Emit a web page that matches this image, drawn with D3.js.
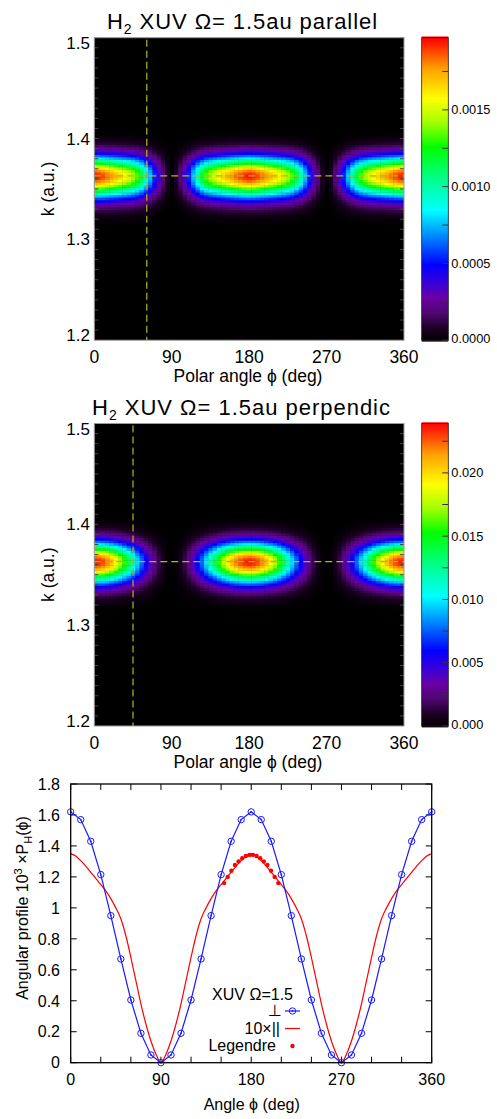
<!DOCTYPE html>
<html><head><meta charset="utf-8">
<script src="https://cdn.jsdelivr.net/npm/d3@7"></script>
<style>
body{margin:0;background:#fff}
svg{display:block}
text{font-family:"Liberation Sans","DejaVu Sans",Arial,sans-serif;fill:#000}
</style>
</head><body>
<svg id="c" width="497" height="1119"></svg>
<script>
// ---------------- DATA ----------------
const heatAngles = d3.range(0, 361, 5);              // polar angle grid (deg)
// angular profile of the parallel case (x10, units 1e-3)
const parallelProfile = [
 1.35,1.335,1.305,1.27,1.23,1.19,1.15,1.11,1.06,1.0,0.93,0.82,0.68,0.53,0.38,0.25,0.14,0.055,0,
 0.055,0.14,0.25,0.38,0.53,0.68,0.82,0.93,1.0,1.06,1.11,1.15,1.19,1.23,1.27,1.305,1.335,1.35,
 1.335,1.305,1.27,1.23,1.19,1.15,1.11,1.06,1.0,0.93,0.82,0.68,0.53,0.38,0.25,0.14,0.055,0,
 0.055,0.14,0.25,0.38,0.53,0.68,0.82,0.93,1.0,1.06,1.11,1.15,1.19,1.23,1.27,1.305,1.335,1.35];
// angular profile of the perpendicular case (units 1e-3)
const perpendicularProfile = [
 1.62,1.607,1.57,1.51,1.43,1.33,1.215,1.087,0.95,0.81,0.67,0.533,0.405,0.29,0.19,0.108,0.05,0.012,0,
 0.012,0.05,0.108,0.19,0.29,0.405,0.533,0.67,0.81,0.95,1.087,1.215,1.33,1.43,1.51,1.57,1.607,1.62,
 1.607,1.57,1.51,1.43,1.33,1.215,1.087,0.95,0.81,0.67,0.533,0.405,0.29,0.19,0.108,0.05,0.012,0,
 0.012,0.05,0.108,0.19,0.29,0.405,0.533,0.67,0.81,0.95,1.087,1.215,1.33,1.43,1.51,1.57,1.607,1.62];
const kGrid = d3.range(41).map(i => 1.313 + i * 0.0025);   // momentum grid (a.u.)
const radialProfile = [
 0.0033,0.0058,0.0098,0.016,0.026,0.040,0.061,0.090,0.128,0.178,0.240,0.315,0.401,0.497,0.598,0.700,0.796,0.879,0.945,0.986,
 1,
 0.983,0.934,0.857,0.760,0.651,0.539,0.432,0.334,0.249,0.180,0.126,0.085,0.055,0.035,0.021,0.0124,0.0070,0.0039,0.0021,0.0010];
const parallelPeak = 0.00195, perpendicularPeak = 0.0236;
const parallelBarMax = 0.00197, perpendicularBarMax = 0.0239;
const parallelBarTicks = [0, 0.0005, 0.0010, 0.0015];
const perpendicularBarTicks = [0, 0.005, 0.010, 0.015, 0.020];
const phiTicks = [0, 90, 180, 270, 360];
const kTicks = [1.2, 1.3, 1.4, 1.5];
const parallelCutPhi = 61, perpendicularCutPhi = 45, cutK = 1.363;

// bottom panel
const profileAngles = d3.range(0, 361, 10);
const perpendicularPoints = [1.62,1.57,1.43,1.215,0.95,0.67,0.405,0.19,0.05,0,
 0.05,0.19,0.405,0.67,0.95,1.215,1.43,1.57,1.62,
 1.57,1.43,1.215,0.95,0.67,0.405,0.19,0.05,0,
 0.05,0.19,0.405,0.67,0.95,1.215,1.43,1.57,1.62];
const legendreAngles = [153,156.6,160.2,163.8,167.4,171,174.6,178.2,181.8,185.4,189,192.6,196.2,199.8,203.4,207];
const legendreValues = [1.16,1.20,1.24,1.277,1.30,1.32,1.335,1.342,1.342,1.335,1.32,1.30,1.277,1.24,1.20,1.16];
const profileXTicks = [0, 90, 180, 270, 360];
const profileYTicks = [0,0.2,0.4,0.6,0.8,1,1.2,1.4,1.6,1.8];

// colour table (fraction of bar max)
const cStops = [[0,"#000000"],[0.04,"#1c0024"],[0.09,"#4e0870"],[0.14,"#6a00a4"],[0.19,"#3a00d8"],[0.25,"#0000ff"],
 [0.34,"#0080ff"],[0.43,"#00ffff"],[0.53,"#00ff90"],[0.64,"#00ff00"],[0.72,"#a0ff00"],[0.80,"#ffff00"],[0.90,"#ffa000"],[1,"#ff0000"]];

// ---------------- DRAW ----------------
const svg = d3.select("#c");
const defs = svg.append("defs");

function title(y, rest, x0, x1){
  const t = svg.append("text").attr("x", x0).attr("y", y).style("font-size","22px");
  t.append("tspan").text("H");
  t.append("tspan").attr("dy",5).style("font-size","14px").text("2");
  t.append("tspan").attr("dy",-5).text(" XUV Ω= 1.5au " + rest);
  const w = t.node().getComputedTextLength();
  const n = ("H2 XUV Ω= 1.5au " + rest).length;
  t.style("letter-spacing", ((x1 - x0 - w) / n) + "px");
}

function heatmap(id, top, profile, peak, barMax, barTicks, fmt, cutPhi){
  const x0 = 94.3, x1 = 404, y0 = top, y1 = top + 302.5;
  const x = d3.scaleLinear().domain([0,360]).range([x0,x1]);
  const y = d3.scaleLinear().domain([1.2,1.5]).range([y1,y0]);
  const color = d3.scaleLinear().domain(cStops.map(s=>s[0]*barMax)).range(cStops.map(s=>s[1])).clamp(true);
  defs.append("clipPath").attr("id","clip"+id).append("rect").attr("x",x0).attr("y",y0).attr("width",x1-x0).attr("height",y1-y0);
  const g = svg.append("g");
  g.append("rect").attr("x",x0).attr("y",y0).attr("width",x1-x0).attr("height",y1-y0).attr("fill","#000");
  const pmax = d3.max(profile);
  const cells = [];
  kGrid.forEach((k,i)=>heatAngles.forEach((a,j)=>{
    const v = peak * profile[j]/pmax * radialProfile[i];
    if (v > barMax*0.004) cells.push({k, a, v});
  }));
  const cw = x(5)-x(0), kh = y(1.2)-y(1.2025);
  g.append("g").attr("clip-path","url(#clip"+id+")").selectAll("rect").data(cells).join("rect")
    .attr("x", d=>x(d.a-2.5)).attr("width", cw+0.4)
    .attr("y", d=>y(d.k+0.00125)).attr("height", kh+0.4)
    .attr("fill", d=>color(d.v));
  // dashed cuts
  g.append("line").attr("x1",x(cutPhi)).attr("x2",x(cutPhi)).attr("y1",y0+2).attr("y2",y1)
    .attr("stroke","#a8a820").attr("stroke-width",1.3).attr("stroke-dasharray","7,4");
  g.append("line").attr("x1",x0).attr("x2",x1).attr("y1",y(cutK)).attr("y2",y(cutK))
    .attr("stroke","#b4b424").attr("stroke-width",1.3).attr("stroke-dasharray","7,4");
  // minor ticks on k axis
  const kt = d3.range(1.21,1.5,0.01);
  g.selectAll(".kt").data(kt).join("line").attr("x1",x0).attr("x2",x0+4).attr("y1",d=>y(d)).attr("y2",d=>y(d)).attr("stroke","#444");
  g.selectAll(".kt2").data(kt).join("line").attr("x1",x1).attr("x2",x1-4).attr("y1",d=>y(d)).attr("y2",d=>y(d)).attr("stroke","#444");
  g.append("rect").attr("x",x0).attr("y",y0).attr("width",x1-x0).attr("height",y1-y0).attr("fill","none").attr("stroke","#9a9a9a").attr("stroke-width",1);
  // axes labels
  g.selectAll(".kl").data(kTicks).join("text").attr("x",90).attr("text-anchor","end")
    .attr("y",d=>y(d) + (d===1.5?5:(d===1.2?-5:0))).attr("dy","0.36em").style("font-size","17px").text(d=>d.toFixed(1));
  g.selectAll(".pl").data(phiTicks).join("text").attr("x",d=>x(d)).attr("y",y1+23).attr("text-anchor","middle").style("font-size","17.5px").text(d=>d);
  g.append("text").attr("x",248).attr("y",y1+42).attr("text-anchor","middle").style("font-size","17.5px").text("Polar angle  ϕ (deg)");
  g.append("text").attr("transform",`translate(54,${(y0+y1)/2}) rotate(-90)`).attr("text-anchor","middle").style("font-size","17.5px").text("k (a.u.)");
  // colour bar
  const bx = 421.7, bw = 26.6;
  const by = d3.scaleLinear().domain([0,barMax]).range([y1,y0]);
  const steps = d3.range(0,152).map(i=>i*barMax/151);
  g.selectAll(".cb").data(steps).join("rect").attr("x",bx).attr("width",bw)
    .attr("y",d=>by(d)-1.2).attr("height",2.6).attr("fill",d=>color(d));
  g.append("rect").attr("x",bx).attr("y",y0).attr("width",bw).attr("height",y1-y0).attr("fill","none").attr("stroke","#222").attr("stroke-width",0.8);
  const step = barTicks[1]-barTicks[0];
  const minor = d3.range(0, barMax, step/2);
  g.selectAll(".cbt").data(minor).join("line").attr("x1",bx+bw).attr("x2",bx+bw-6).attr("y1",d=>by(d)).attr("y2",d=>by(d)).attr("stroke","#333");
  g.selectAll(".cbl").data(barTicks).join("text").attr("x",bx+bw+3).attr("y",d=>by(d)-(d===0?2:0)).attr("dy","0.36em")
    .style("font-size","12.8px").text(d=>d3.format(fmt)(d));
}

title(29, "parallel", 107, 378);
heatmap("a", 37.7, parallelProfile, parallelPeak, parallelBarMax, parallelBarTicks, ".4f", parallelCutPhi);
title(415, "perpendic", 92, 391);
heatmap("b", 423.5, perpendicularProfile, perpendicularPeak, perpendicularBarMax, perpendicularBarTicks, ".3f", perpendicularCutPhi);

// ---------------- bottom panel ----------------
(function(){
  const X0 = 70.7, X1 = 431.7, Y0 = 784, Y1 = 1062.7;
  const x = d3.scaleLinear().domain([0,360]).range([X0,X1]);
  const y = d3.scaleLinear().domain([0,1.8]).range([Y1,Y0]);
  const g = svg.append("g");
  const xt = d3.range(0,361,30), yt = profileYTicks;
  g.selectAll(".xb").data(xt).join("line").attr("x1",d=>x(d)).attr("x2",d=>x(d)).attr("y1",Y1).attr("y2",Y1-6).attr("stroke","#000");
  g.selectAll(".xt").data(xt).join("line").attr("x1",d=>x(d)).attr("x2",d=>x(d)).attr("y1",Y0).attr("y2",Y0+6).attr("stroke","#000");
  g.selectAll(".yl").data(yt).join("line").attr("x1",X0).attr("x2",X0+6).attr("y1",d=>y(d)).attr("y2",d=>y(d)).attr("stroke","#000");
  g.selectAll(".yr").data(yt).join("line").attr("x1",X1).attr("x2",X1-6).attr("y1",d=>y(d)).attr("y2",d=>y(d)).attr("stroke","#000");
  g.selectAll(".xl").data(profileXTicks).join("text").attr("x",d=>x(d)).attr("y",1085).attr("text-anchor","middle").style("font-size","16px").text(d=>d);
  g.selectAll(".ylb").data(yt).join("text").attr("x",60).attr("y",d=>y(d)).attr("dy","0.36em").attr("text-anchor","end").style("font-size","16px").text(d=>d3.format("~g")(d));
  g.append("text").attr("x",251.7).attr("y",1110).attr("text-anchor","middle").style("font-size","16px").text("Angle ϕ (deg)");
  const yl = g.append("text").attr("transform","translate(28,908) rotate(-90)").attr("text-anchor","middle").style("font-size","16px");
  yl.append("tspan").text("Angular profile 10");
  yl.append("tspan").attr("dy",-6).style("font-size","11px").text("3");
  yl.append("tspan").attr("dy",6).text(" ×P");
  yl.append("tspan").attr("dy",4).style("font-size","11px").text("H");
  yl.append("tspan").attr("dy",-4).text("(ϕ)");

  // red 10x parallel
  g.append("path").datum(heatAngles.map((a,i)=>[a,parallelProfile[i]]))
    .attr("d", d3.line().x(d=>x(d[0])).y(d=>y(d[1])).curve(d3.curveMonotoneX))
    .attr("fill","none").attr("stroke","#ff0000").attr("stroke-width",1.2);
  // blue perpendicular
  const pts = profileAngles.map((a,i)=>[a,perpendicularPoints[i]]);
  g.append("path").datum(pts).attr("d", d3.line().x(d=>x(d[0])).y(d=>y(d[1])))
    .attr("fill","none").attr("stroke","#1a1aff").attr("stroke-width",1.2);
  g.selectAll(".pm").data(pts).join("circle").attr("cx",d=>x(d[0])).attr("cy",d=>y(d[1])).attr("r",3.2)
    .attr("fill","none").attr("stroke","#1a1aff").attr("stroke-width",1);
  g.selectAll(".pd").data(pts).join("circle").attr("cx",d=>x(d[0])).attr("cy",d=>y(d[1])).attr("r",0.9).attr("fill","#1a1aff");
  // Legendre dots
  g.selectAll(".ld").data(legendreAngles).join("circle").attr("cx",d=>x(d)).attr("cy",(d,i)=>y(legendreValues[i])).attr("r",2.2).attr("fill","#ff0000");
  g.append("rect").attr("x",X0).attr("y",Y0).attr("width",X1-X0).attr("height",Y1-Y0).attr("fill","none").attr("stroke","#000").attr("stroke-width",1.3);

  // legend
  g.append("text").attr("x",293).attr("y",1000).attr("text-anchor","end").style("font-size","16px").text("XUV Ω=1.5");
  g.append("text").attr("x",282).attr("y",1016).attr("text-anchor","end").style("font-size","16px").text("⊥");
  g.append("line").attr("x1",285).attr("x2",300).attr("y1",1011).attr("y2",1011).attr("stroke","#1a1aff").attr("stroke-width",1.2);
  g.append("circle").attr("cx",292.5).attr("cy",1011).attr("r",3.2).attr("fill","none").attr("stroke","#1a1aff");
  g.append("circle").attr("cx",292.5).attr("cy",1011).attr("r",0.9).attr("fill","#1a1aff");
  g.append("text").attr("x",280).attr("y",1034).attr("text-anchor","end").style("font-size","16px").text("10×||");
  g.append("line").attr("x1",285).attr("x2",300).attr("y1",1028.5).attr("y2",1028.5).attr("stroke","#ff0000").attr("stroke-width",1.2);
  g.append("text").attr("x",276).attr("y",1051).attr("text-anchor","end").style("font-size","16px").text("Legendre");
  g.append("circle").attr("cx",292.5).attr("cy",1046).attr("r",2.2).attr("fill","#ff0000");
})();
</script>
</body></html>
